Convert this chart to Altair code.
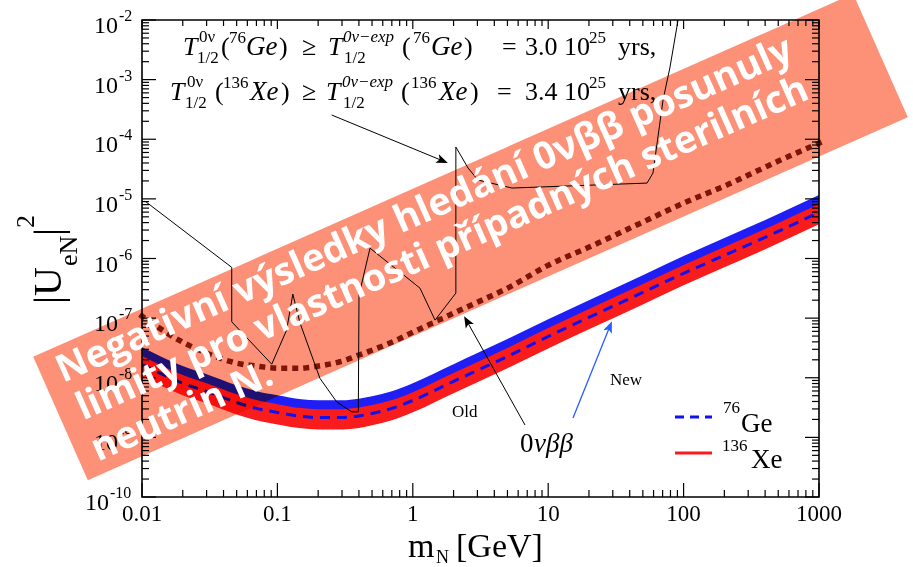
import altair as alt
import pandas as pd

# ---------------- data ----------------
mass = [0.01, 0.02, 0.03, 0.05, 0.07, 0.1, 0.15, 0.2, 0.3, 0.4, 0.5, 0.7,
        1, 2, 3, 5, 10, 20, 50, 100, 200, 500, 1000]
ge_upper = [3.26e-8, 1.57e-8, 1.15e-8, 7.5e-9, 5.96e-9, 5.1e-9, 4.38e-9, 4.2e-9, 4.2e-9, 4.46e-9, 4.91e-9, 5.96e-9,
            8.11e-9, 1.69e-8, 2.59e-8, 4.45e-8, 9.6e-8, 2.0e-7, 5.26e-7, 1.10e-6, 2.2e-6, 5.56e-6, 1.16e-5]
ge_center = [1.67e-8, 8.1e-9, 5.9e-9, 3.85e-9, 3.06e-9, 2.62e-9, 2.25e-9, 2.15e-9, 2.15e-9, 2.29e-9, 2.52e-9, 3.06e-9,
             4.16e-9, 8.7e-9, 1.33e-8, 2.28e-8, 4.92e-8, 1.03e-7, 2.7e-7, 5.64e-7, 1.13e-6, 2.85e-6, 5.95e-6]
ge_lower = [1.24e-8, 6.0e-9, 4.4e-9, 2.85e-9, 2.26e-9, 1.94e-9, 1.66e-9, 1.6e-9, 1.6e-9, 1.69e-9, 1.87e-9, 2.26e-9,
            3.08e-9, 6.4e-9, 9.8e-9, 1.69e-8, 3.65e-8, 7.6e-8, 2.0e-7, 4.2e-7, 8.4e-7, 2.11e-6, 4.4e-6]
xe_upper = [2.31e-8, 1.11e-8, 8.1e-9, 5.3e-9, 4.22e-9, 3.61e-9, 3.1e-9, 2.97e-9, 2.97e-9, 3.16e-9, 3.48e-9, 4.22e-9,
            5.74e-9, 1.2e-8, 1.83e-8, 3.15e-8, 6.8e-8, 1.42e-7, 3.72e-7, 7.8e-7, 1.56e-6, 3.94e-6, 8.2e-6]
xe_lower = [1.06e-8, 5.1e-9, 3.73e-9, 2.43e-9, 1.93e-9, 1.65e-9, 1.42e-9, 1.36e-9, 1.36e-9, 1.44e-9, 1.59e-9, 1.93e-9,
            2.63e-9, 5.5e-9, 8.4e-9, 1.44e-8, 3.1e-8, 6.5e-8, 1.7e-7, 3.56e-7, 7.1e-7, 1.8e-6, 3.76e-6]
old_0vbb = [1.08e-7, 3.95e-8, 2.59e-8, 1.76e-8, 1.57e-8, 1.45e-8, 1.45e-8, 1.57e-8, 1.9e-8, 2.4e-8, 2.9e-8, 3.95e-8,
            5.8e-8, 1.21e-7, 1.85e-7, 3.18e-7, 7.7e-7, 1.55e-6, 4.08e-6, 8.5e-6, 1.64e-5, 4.3e-5, 8.6e-5]

lim_mass = [0.0105, 0.046, 0.046, 0.0908, 0.117, 0.130, 0.147, 0.206, 0.274, 0.354, 0.396, 0.4006,
            0.483, 0.953, 1.13, 1.46, 2.08, 2.08, 2.56, 3.03, 5.4, 53.7, 59.4, 70.5, 79.4, 91]
lim_u2 = [9.2e-6, 7.1e-7, 8.67e-8, 1.69e-8, 6.3e-8, 2.53e-7, 8.24e-8, 9.8e-9, 3.94e-9, 2.68e-9, 2.68e-9, 2.43e-7,
          1.49e-6, 4.34e-7, 3.18e-7, 9.25e-8, 2.63e-7, 7.4e-5, 3.29e-5, 2.07e-5, 1.52e-5, 1.84e-5, 2.71e-5,
          4.55e-4, 1.63e-3, 1e-2]

x_major = [0.01, 0.1, 1, 10, 100, 1000]
x_labels = ["0.01", "0.1", "1", "10", "100", "1000"]
y_major = [1e-10, 1e-9, 1e-8, 1e-7, 1e-6, 1e-5, 1e-4, 1e-3, 1e-2]
y_exps = ["-10", "-9", "-8", "-7", "-6", "-5", "-4", "-3", "-2"]

banner_lines = ["Negativní výsledky hledání 0νββ posunuly",
                "limity pro vlastnosti případných sterilních",
                "neutrin N."]

# ---------------- layout ----------------
OX, OY, W, H = 142, 20, 677, 477
XD, YD = [0.01, 1000], [1e-10, 1e-2]

x_minor = [k * 10 ** e for e in range(-2, 3) for k in range(2, 10)]
y_minor = [k * 10.0 ** e for e in range(-10, -2) for k in range(2, 10)]

curves = pd.DataFrame(dict(m=mass, ge_up=ge_upper, ge_c=ge_center, ge_lo=ge_lower,
                           xe_up=xe_upper, xe_lo=xe_lower, old=old_0vbb))
limit = pd.DataFrame(dict(m=lim_mass, u=lim_u2, i=list(range(len(lim_mass)))))
one = pd.DataFrame({"a": [0]})


def X(f):
    return alt.X(f, type="quantitative", scale=alt.Scale(type="log", domain=XD), axis=None)


def Y(f):
    return alt.Y(f, type="quantitative", scale=alt.Scale(type="log", domain=YD), axis=None)


def txt(t, x, y, size, style="normal", font="Liberation Serif", angle=0, align="left",
        baseline="alphabetic", color="black", weight="normal"):
    return alt.Chart(one).mark_text(text=t, fontSize=size, fontStyle=style, font=font, angle=angle,
                                    align=align, baseline=baseline, color=color, fontWeight=weight).encode(
        x=alt.value(x - OX), y=alt.value(y - OY))


def seg(x1, y1, x2, y2, color="black", width=1.0, dash=None):
    kw = dict(color=color, strokeWidth=width)
    if dash:
        kw["strokeDash"] = dash
    return alt.Chart(one).mark_rule(**kw).encode(
        x=alt.value(x1 - OX), y=alt.value(y1 - OY), x2=alt.value(x2 - OX), y2=alt.value(y2 - OY))


HEAD = "M0,-1 L0.75,0.9 L0,0.45 L-0.75,0.9 Z"


def head(x, y, ang, color="black"):
    return alt.Chart(one).mark_point(shape=HEAD, filled=True, size=150, color=color, opacity=1,
                                     angle=ang).encode(x=alt.value(x - OX), y=alt.value(y - OY))


layers = []

# gray excluded region above the new limit
layers.append(alt.Chart(curves).mark_area(color="#DADADA", interpolate="monotone").encode(
    x=X("m"), y=Y("ge_up"), y2=alt.value(0)))

# white formula box
layers.append(alt.Chart(one).mark_rect(color="white").encode(
    x=alt.value(154 - OX), x2=alt.value(668 - OX), y=alt.value(27 - OY), y2=alt.value(115 - OY)))

# bands
layers.append(alt.Chart(curves).mark_area(color="#1E1EF5", interpolate="monotone").encode(
    x=X("m"), y=Y("ge_up"), y2=alt.Y2("ge_lo")))
layers.append(alt.Chart(curves).mark_area(color="#F81C1C", interpolate="monotone").encode(
    x=X("m"), y=Y("xe_up"), y2=alt.Y2("xe_lo")))
layers.append(alt.Chart(curves).mark_line(color="#1010F0", strokeWidth=3, strokeDash=[10, 7],
                                          interpolate="monotone").encode(x=X("m"), y=Y("ge_c")))

# old 0vbb dotted
layers.append(alt.Chart(curves).mark_line(color="#7E2410", strokeWidth=5.5, strokeDash=[0.5, 10.5],
                                          strokeCap="square", interpolate="monotone").encode(
    x=X("m"), y=Y("old")))

# old experimental limits (thin black)
layers.append(alt.Chart(limit).mark_line(color="black", strokeWidth=1, clip=True).encode(
    x=X("m"), y=Y("u"), order="i:Q"))

# formula text
it, rm = "italic", "normal"
BIG, SM = 26, 17
b1, b2 = 55, 100
formula = [
    ("T", 183, b1, BIG, it), ("0ν", 199, b1 - 13, SM, rm), ("1/2", 197, b1 + 8, SM, rm),
    ("(", 221, b1, BIG, rm), ("76", 229, b1 - 12, SM, rm), ("Ge", 246, b1, 27, it), (")", 279, b1, BIG, rm),
    ("≥", 302, b1, BIG, rm), ("T", 328, b1, BIG, it), ("0ν−exp", 343, b1 - 13, SM, it), ("1/2", 344, b1 + 8, SM, rm),
    ("(", 402, b1, BIG, rm), ("76", 413, b1 - 12, SM, rm), ("Ge", 431, b1, 27, it), (")", 464, b1, BIG, rm),
    ("=", 502, b1, BIG, rm), ("3.0 10", 525, b1, BIG, rm), ("25", 589, b1 - 12, SM, rm), ("yrs,", 618, b1, BIG, rm),
    ("T", 170, b2, BIG, it), ("0ν", 187, b2 - 13, SM, rm), ("1/2", 185, b2 + 8, SM, rm),
    ("(", 215, b2, BIG, rm), ("136", 223, b2 - 12, SM, rm), ("Xe", 250, b2, 27, it), (")", 281, b2, BIG, rm),
    ("≥", 302, b2, BIG, rm), ("T", 326, b2, BIG, it), ("0ν−exp", 342, b2 - 13, SM, it), ("1/2", 343, b2 + 8, SM, rm),
    ("(", 401, b2, BIG, rm), ("136", 411, b2 - 12, SM, rm), ("Xe", 439, b2, 27, it), (")", 470, b2, BIG, rm),
    ("=", 497, b2, BIG, rm), ("3.4 10", 525, b2, BIG, rm), ("25", 589, b2 - 12, SM, rm), ("yrs,", 618, b2, BIG, rm),
]
for t, x, y, s, st in formula:
    layers.append(txt(t, x, y, s, style=st))

# arrows
layers.append(seg(331.7, 115, 442.2, 160.6))
layers.append(head(442.2, 160.6, 112.4))
layers.append(seg(525, 425, 467.1, 321.5))
layers.append(head(467.1, 321.5, 330.8))
layers.append(seg(573, 418, 609.6, 326.9, color="#2A5CFF", width=1.3))
layers.append(head(609.6, 326.9, 21.9, color="#2A5CFF"))

# annotations
layers.append(txt("Old", 452, 417, 17))
layers.append(txt("New", 610, 385, 17))
layers.append(txt("0", 520, 452, 27))
layers.append(txt("νββ", 534, 452, 27, style=it))

# legend
layers.append(seg(675, 417, 712, 417, color="#1010F0", width=3, dash=[9, 6]))
layers.append(seg(675, 453, 712, 453, color="#F81C1C", width=3))
layers.append(txt("76", 723, 413, 17))
layers.append(txt("Ge", 741, 432, 27))
layers.append(txt("136", 722, 451, 17))
layers.append(txt("Xe", 751, 468, 27))

# frame
layers.append(alt.Chart(one).mark_rect(fillOpacity=0, stroke="black", strokeWidth=1.6).encode(
    x=alt.value(0), x2=alt.value(W), y=alt.value(0), y2=alt.value(H)))

# ticks (inward, mirrored)
xt = pd.DataFrame({"v": x_major})
xm = pd.DataFrame({"v": x_minor})
yt = pd.DataFrame({"v": y_major})
ym = pd.DataFrame({"v": y_minor})
for df, L, Lt in [(xt, 14, 9), (xm, 7, 6)]:
    layers.append(alt.Chart(df).mark_rule(color="black", strokeWidth=1.2).encode(
        x=X("v"), y=alt.value(H), y2=alt.value(H - L)))
    layers.append(alt.Chart(df).mark_rule(color="black", strokeWidth=1.2).encode(
        x=X("v"), y=alt.value(0), y2=alt.value(Lt)))
for df, L in [(yt, 14), (ym, 7)]:
    layers.append(alt.Chart(df).mark_rule(color="black", strokeWidth=1.2).encode(
        y=Y("v"), x=alt.value(0), x2=alt.value(L)))
    layers.append(alt.Chart(df).mark_rule(color="black", strokeWidth=1.2).encode(
        y=Y("v"), x=alt.value(W), x2=alt.value(W - L)))

# tick labels
xl = pd.DataFrame({"v": x_major, "t": x_labels})
layers.append(alt.Chart(xl).mark_text(font="Liberation Serif", fontSize=23, baseline="alphabetic",
                                      align="center", color="black").encode(
    x=X("v"), y=alt.value(H + 24), text="t:N"))
yl = pd.DataFrame({"v": y_major, "e": y_exps})
yl["w"] = yl["e"].str.len()
short = yl[yl["w"] <= 2]
longl = yl[yl["w"] > 2]
for df, base_x in [(short, -24), (longl, -33)]:
    layers.append(alt.Chart(df).mark_text(font="Liberation Serif", fontSize=24, baseline="alphabetic",
                                          align="right", color="black", text="10").encode(
        y=Y("v"), x=alt.value(base_x), yOffset=alt.value(13)))
    layers.append(alt.Chart(df).mark_text(font="Liberation Serif", fontSize=16, baseline="alphabetic",
                                          align="left", color="black").encode(
        y=Y("v"), x=alt.value(base_x + 1), yOffset=alt.value(1), text="e:N"))

# axis titles
layers.append(txt("|U", 61, 304, 40, angle=270))
layers.append(txt("eN", 77, 266, 26, angle=270))
layers.append(txt("|", 61, 236, 40, angle=270))
layers.append(txt("2", 34, 228, 26, angle=270))
layers.append(txt("m", 408, 557, 34))
layers.append(txt("N", 436, 563, 18))
layers.append(txt("[GeV]", 456, 557, 34))

# banner (multiply-blended overlay)
layers.append(alt.Chart(one).mark_rule(color="#FC9178", blend="multiply", strokeWidth=135, strokeCap="butt").encode(
    x=alt.value(60.5 - OX), y=alt.value(418.5 - OY), x2=alt.value(880.5 - OX), y2=alt.value(55.5 - OY)))
ANG = 336.12
for t, (bx, by) in zip(banner_lines, [(58.6, 372.9), (78.8, 410.4), (93.6, 451.7)]):
    layers.append(txt(t, bx, by, 38, font="Open Sans", angle=ANG, baseline="middle",
                      color="white", weight="bold"))

chart = alt.layer(*layers).properties(
    width=W, height=H,
    padding={"left": OX, "top": OY, "right": 913 - OX - W, "bottom": 567 - OY - H},
    autosize=alt.AutoSizeParams(type="none"),
).configure_view(stroke=None)

chart.save("out.html", embed_options={"renderer": "svg", "actions": False})
